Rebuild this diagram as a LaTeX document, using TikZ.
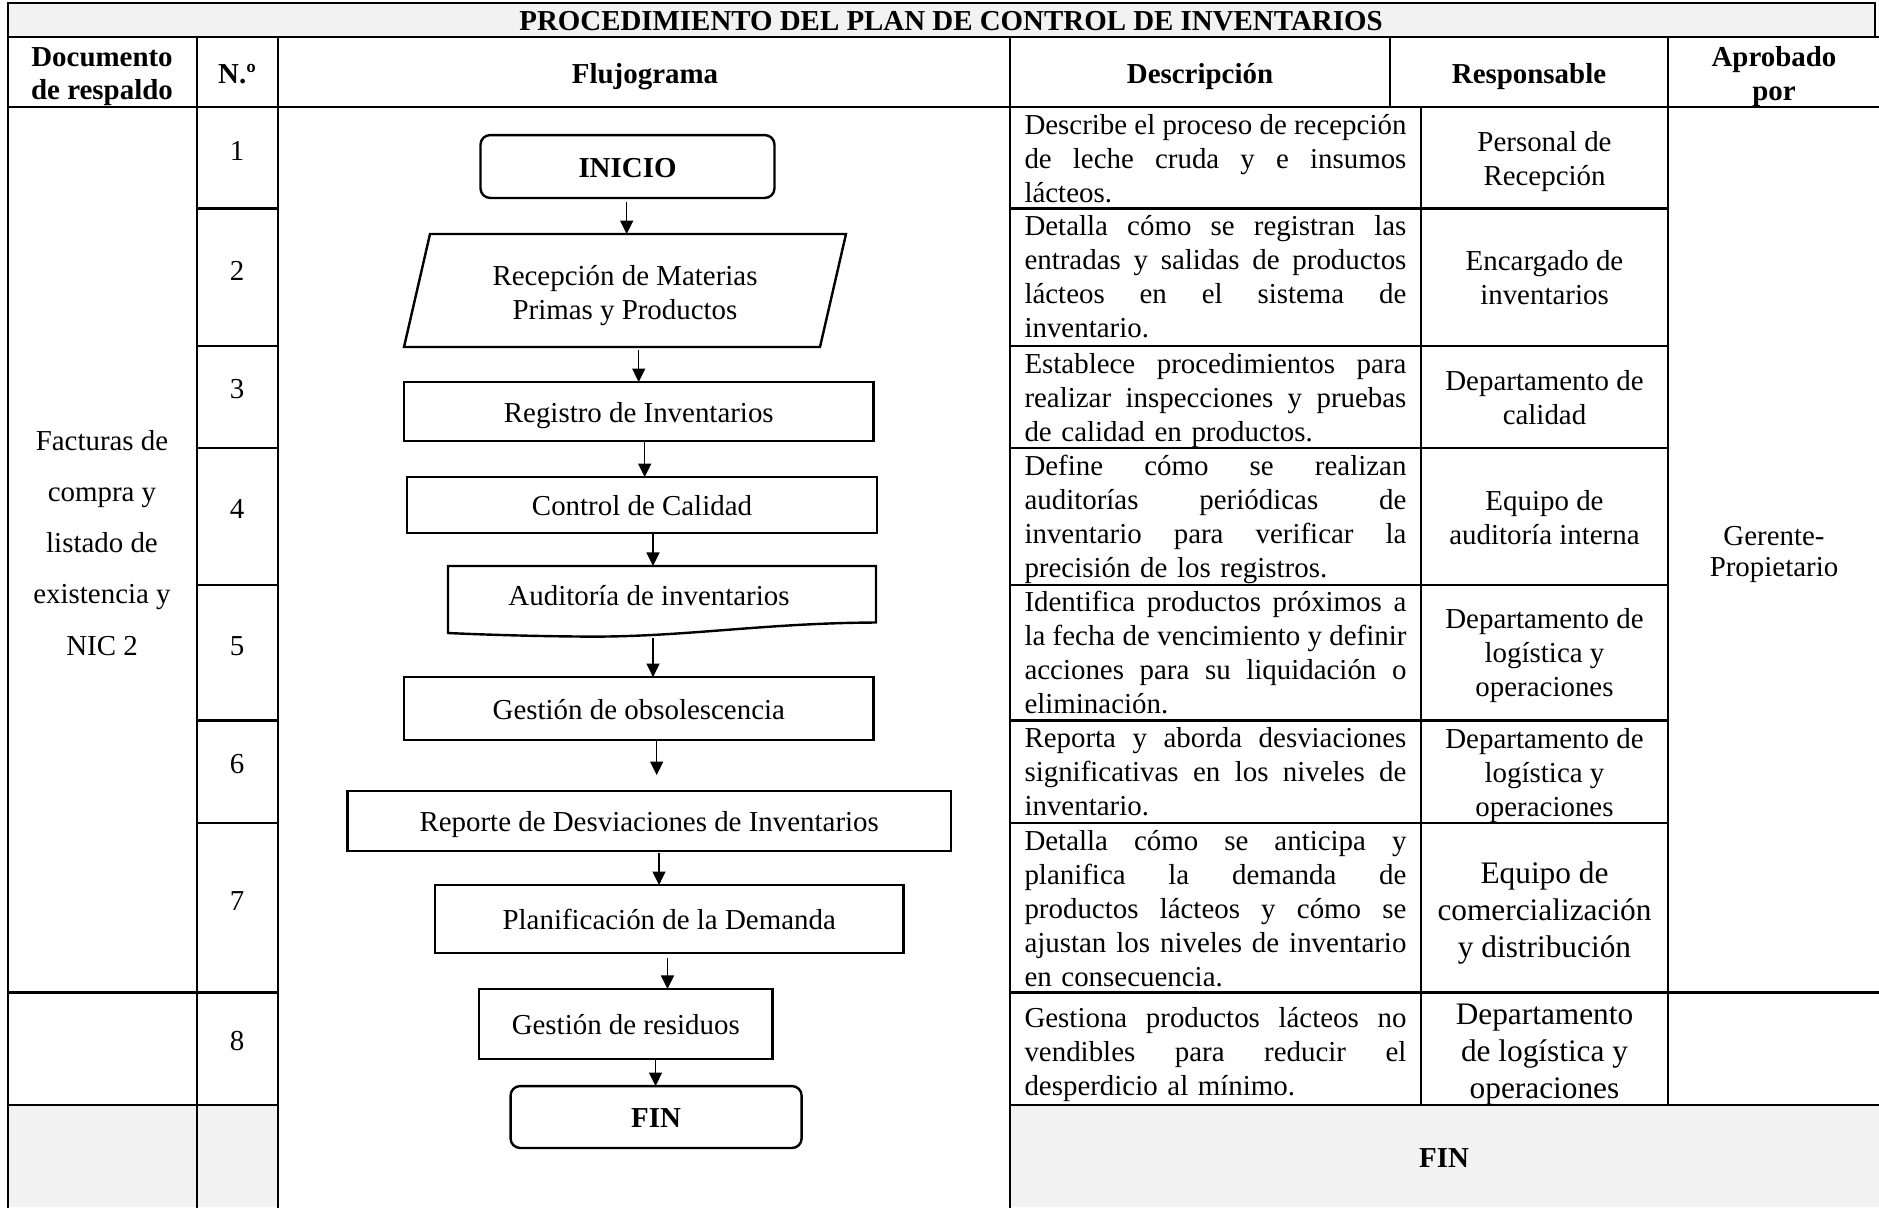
\documentclass[tikz,border=0pt]{standalone}
\usepackage{fontspec}
\setmainfont{Liberation Serif}
\usetikzlibrary{arrows.meta}
\definecolor{hdrgray}{HTML}{F2F2F2}
\newdimen\descw \descw=158.5pt
\def\jlloop#1 #2\jlend{#1\if\relax\detokenize{#2}\relax\else\hfil\jlloop#2\jlend\fi}
\newcommand{\jl}[1]{\leavevmode\hbox to\descw{\jlloop#1 \jlend}}
\begin{document}
\begin{tikzpicture}[x=0.415pt,y=-0.415pt,
  every node/.style={inner sep=0pt, outer sep=0pt, font=\fontsize{12}{14.1}\selectfont},
  tline/.style={line width=1pt, line cap=rect},
  fbox/.style={draw, line width=1pt, inner sep=0pt, text height=10.2pt, text depth=1.2pt},
  arr/.style={line width=0.6pt, -{Triangle[length=5.6pt,width=5.4pt]}},
  hdr/.style={font=\bfseries\fontsize{12}{14.1}\selectfont, align=center},
  hdrone/.style={hdr, text height=10.2pt, text depth=1.2pt},
  desc/.style={anchor=north west, text width=\descw, align=left},
  resp/.style={align=center},
]
\path[use as bounding box, fill=white] (0,0) rectangle (1879,1207);
% fills
\fill[hdrgray] (8,3) rectangle (1875,37);
\fill[hdrgray] (8,1105) rectangle (278,1207);
\fill[hdrgray] (1010,1105) rectangle (1879,1207);
% table lines
\draw[tline] (8,1207) -- (8,3) -- (1875,3) -- (1875,37);
\draw[tline] (8,37) -- (1879,37);
\draw[tline] (8,107) -- (1879,107);
\draw[tline] (197,37) -- (197,1207);
\draw[tline] (278,37) -- (278,1207);
\draw[tline] (1010,37) -- (1010,1207);
\draw[tline] (1390,37) -- (1390,107);
\draw[tline] (1421,107) -- (1421,1105);
\draw[tline] (1668,37) -- (1668,1105);
\foreach \yy in {208.5,346,448,585,720.5,823} {
  \draw[tline] (197,\yy) -- (278,\yy);
  \draw[tline] (1010,\yy) -- (1668,\yy);
}
\foreach \yy in {992.5,1105} {
  \draw[tline] (8,\yy) -- (278,\yy);
  \draw[tline] (1010,\yy) -- (1879,\yy);
}
% title and headers
\node[hdr] (title) at (951,21) {PROCEDIMIENTO DEL PLAN DE CONTROL DE INVENTARIOS};
\node[hdr] (hdoc) at (102,76.6) {Documento\\de respaldo};
\node[hdrone] (hnum) at (237,73) {N.º};
\node[hdrone] (hflow) at (645,73) {Flujograma};
\node[hdrone] (hdesc) at (1200,73) {Descripción};
\node[hdrone] (hresp) at (1529,73) {Responsable};
\node[hdr] (hapr) at (1774,76.6) {Aprobado\\por};
% column 1
\node[align=center, font=\fontsize{12}{21.2}\selectfont] (doc) at (102,543) {Facturas de\\compra y\\listado de\\existencia y\\NIC 2};
% numbers
\node (n1) at (237,151) {1};
\node (n2) at (237,271) {2};
\node (n3) at (237,389) {3};
\node (n4) at (237,509) {4};
\node (n5) at (237,646) {5};
\node (n6) at (237,764) {6};
\node (n7) at (237,901) {7};
\node (n8) at (237,1041) {8};
% descriptions
\node[desc] (d1) at (1024.5,110.5) {\strut\jl{Describe el proceso de recepción}\\\jl{de leche cruda y e insumos}\\lácteos.};
\node[desc] (d2) at (1024.5,212) {\strut\jl{Detalla cómo se registran las}\\\jl{entradas y salidas de productos}\\\jl{lácteos en el sistema de}\\inventario.};
\node[desc] (d3) at (1024.5,349.5) {\strut\jl{Establece procedimientos para}\\\jl{realizar inspecciones y pruebas}\\de calidad en productos.};
\node[desc] (d4) at (1024.5,451.5) {\strut\jl{Define cómo se realizan}\\\jl{auditorías periódicas de}\\\jl{inventario para verificar la}\\precisión de los registros.};
\node[desc] (d5) at (1024.5,588) {\strut\jl{Identifica productos próximos a}\\\jl{la fecha de vencimiento y definir}\\\jl{acciones para su liquidación o}\\eliminación.};
\node[desc] (d6) at (1024.5,724) {\strut\jl{Reporta y aborda desviaciones}\\\jl{significativas en los niveles de}\\inventario.};
\node[desc] (d7) at (1024.5,826.5) {\strut\jl{Detalla cómo se anticipa y}\\\jl{planifica la demanda de}\\\jl{productos lácteos y cómo se}\\\jl{ajustan los niveles de inventario}\\en consecuencia.};
\node[desc] (d8) at (1024.5,1004) {\strut\jl{Gestiona productos lácteos no}\\\jl{vendibles para reducir el}\\desperdicio al mínimo.};
% responsables
\node[resp] (r1) at (1544.5,162) {Personal de\\Recepción};
\node[resp] (r2) at (1544.5,278) {Encargado de\\inventarios};
\node[resp] (r3) at (1544.5,398) {Departamento de\\calidad};
\node[resp] (r4) at (1544.5,517.5) {Equipo de\\auditoría interna};
\node[resp] (r5) at (1544.5,656) {Departamento de\\logística y\\operaciones};
\node[resp] (r6) at (1544.5,776) {Departamento de\\logística y\\operaciones};
\node[resp, font=\fontsize{13}{15.2}\selectfont] (r7) at (1544.5,913) {Equipo de\\comercialización\\y distribución};
\node[resp, font=\fontsize{13}{15.4}\selectfont] (r8) at (1544.5,1054.5) {Departamento\\de logística y\\operaciones};
% aprobado
\node[resp, font=\fontsize{12}{13}\selectfont] (apr) at (1774,554.5) {Gerente-\\Propietario};
% bottom FIN
\node[hdrone] (finb) at (1444,1157) {FIN};
% flowchart
\node[fbox, rounded corners=4pt, minimum width=122pt, minimum height=26.1pt, font=\bfseries\fontsize{12}{14.1}\selectfont] (inicio) at (627.5,166.5) {INICIO};
\draw[line width=1pt] (430,234) -- (846,234) -- (820,347) -- (404,347) -- cycle;
\node[minimum width=172.2pt, minimum height=46.9pt] (recep) at (625,290.5) {};
\node[align=center] (receptxt) at (625,296) {Recepción de Materias\\Primas y Productos};
\node[fbox, minimum width=194.9pt, minimum height=24.5pt] (regis) at (638.8,411.5) {Registro de Inventarios};
\node[fbox, minimum width=195.1pt, minimum height=23.2pt] (control) at (642,505) {Control de Calidad};
\draw[line width=1pt] (448,566) -- (876,566) -- (876,622.5) .. controls (760,623) and (680,638) .. (578,636.5) .. controls (520,636) and (470,634) .. (448,633) -- cycle;
\node[minimum width=177.6pt, minimum height=29.1pt] (audit) at (662,601) {};
\node[text height=10.2pt, text depth=1.2pt] (audittxt) at (649,595) {Auditoría de inventarios};
\node[fbox, minimum width=194.9pt, minimum height=26.1pt] (obs) at (638.8,708.5) {Gestión de obsolescencia};
\node[fbox, minimum width=250.5pt, minimum height=24.9pt] (reporte) at (649.2,821) {Reporte de Desviaciones de Inventarios};
\node[fbox, minimum width=194.4pt, minimum height=28.2pt] (plan) at (669.2,919) {Planificación de la Demanda};
\node[fbox, minimum width=121.8pt, minimum height=29.1pt] (resid) at (625.8,1024) {Gestión de residuos};
\node[fbox, rounded corners=4pt, minimum width=120.8pt, minimum height=25.7pt, font=\bfseries\fontsize{12}{14.1}\selectfont] (fin) at (656.1,1117) {FIN};
% arrow x positions
\coordinate (a1) at (626.7,0);
\coordinate (a2) at (638.7,0);
\coordinate (a3) at (644.7,0);
\coordinate (a4) at (653,0);
\coordinate (a5) at (653,0);
\coordinate (e6) at (656.7,775);
\coordinate (a7) at (659,0);
\coordinate (a8) at (667.5,0);
\coordinate (a9) at (655.5,0);
\draw[arr, shorten <=1.5pt] (inicio.south -| a1) -- (recep.north -| a1);
\draw[arr, shorten <=1.2pt] (recep.south -| a2) -- (regis.north -| a2);
\draw[arr] (regis.south -| a3) -- (control.north -| a3);
\draw[arr] (control.south -| a4) -- (audit.north -| a4);
\draw[arr, shorten <=0.6pt] (audit.south -| a5) -- (obs.north -| a5);
\draw[arr] (obs.south -| e6) -- (e6);
\draw[arr, shorten <=0.8pt] (reporte.south -| a7) -- (plan.north -| a7);
\draw[arr, shorten <=2pt] (plan.south -| a8) -- (resid.north -| a8);
\draw[arr] (resid.south -| a9) -- (fin.north -| a9);
\end{tikzpicture}
\end{document}
